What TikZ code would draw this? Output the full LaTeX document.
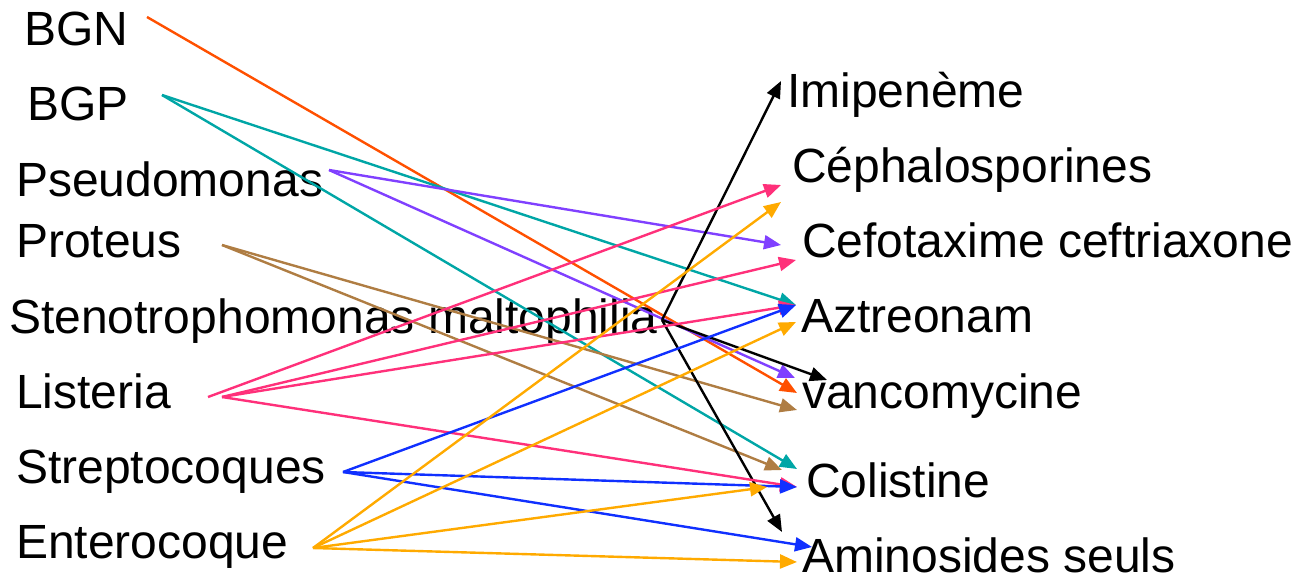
\documentclass[tikz,border=0pt]{standalone}
\usepackage{fontspec}
\setmainfont{Liberation Sans}
\usepackage{tikz}
\usetikzlibrary{arrows.meta,positioning}

\definecolor{cRed}{RGB}{255,80,0}
\definecolor{cTeal}{RGB}{0,166,166}
\definecolor{cPurple}{RGB}{128,64,255}
\definecolor{cBrown}{RGB}{175,125,67}
\definecolor{cPink}{RGB}{255,48,122}
\definecolor{cBlue}{RGB}{16,48,255}
\definecolor{cOrange}{RGB}{255,170,0}

\begin{document}
\begin{tikzpicture}[x=1pt,y=-1pt,
		every node/.style={inner sep=0pt,anchor=base west,font=\fontsize{48}{58}\selectfont},
		link/.style={line width=2.4pt,-{Triangle[length=17pt,width=14pt]}}]
		\useasboundingbox (0,0) rectangle (1296,578);

		% bacteries
		\node (bgn) at (24,46) {BGN};
		\node (bgp) at (27,121) {BGP};
		\node (pseudo) at (16,196) {Pseudomonas};
		\node (proteus) at (16,257) {Proteus};
		\node (steno) at (9,333) {Stenotrophomonas maltophilia};
		\node (listeria) at (16,408) {Listeria};
		\node (strepto) at (16,483) {Streptocoques};
		\node (entero) at (16,558) {Enterocoque};

		% antibiotiques
		\node (imip) at (787,107) {Imipenème};
		\node (cepha) at (792,182) {Céphalosporines};
		\node (cefo) at (802,257) {Cefotaxime ceftriaxone};
		\node (aztreo) at (801,332) {Aztreonam};
		\node (vanco) at (802,408) {vancomycine};
		\node (coli) at (806,497) {Colistine};
		\node (amino) at (802,572) {Aminosides seuls};

		% departs
		\coordinate (bgn-o) at (147,17);
		\coordinate (bgp-o) at (162,95);
		\coordinate (pseudo-o) at (329,170);
		\coordinate (proteus-o) at (222,245);
		\coordinate (steno-o) at (662,320);
		\coordinate (listeria-o) at (208,397);
		\coordinate (listeria-p) at (222,397);
		\coordinate (strepto-o) at (343,472);
		\coordinate (entero-o) at (313,548);

		% pointes
		\coordinate (imip-a) at (781,81);
		\coordinate (cepha-a) at (781,185);
		\coordinate (cepha-b) at (781,202);
		\coordinate (cefo-a) at (781,245);
		\coordinate (cefo-b) at (796,260);
		\coordinate (aztreo-a) at (796,305);
		\coordinate (aztreo-b) at (796,322);
		\coordinate (vanco-a) at (795,378);
		\coordinate (vanco-b) at (797,393);
		\coordinate (vanco-c) at (797,410);
		\coordinate (vanco-d) at (827,380);
		\coordinate (coli-a) at (797,469);
		\coordinate (coli-b) at (782,470);
		\coordinate (coli-c) at (797,487);
		\coordinate (coli-d) at (767,487);
		\coordinate (amino-a) at (782,532);
		\coordinate (amino-b) at (812,547);
		\coordinate (amino-c) at (797,562);

		\draw[link,cRed] (bgn-o)--(vanco-b);
		\draw[link,cTeal] (bgp-o)--(aztreo-a);
		\draw[link,cTeal] (bgp-o)--(coli-a);
		\draw[link,cPurple] (pseudo-o)--(cefo-a);
		\draw[link,cPurple] (pseudo-o)--(vanco-a);
		\draw[link,cBrown] (proteus-o)--(vanco-c);
		\draw[link,cBrown] (proteus-o)--(coli-b);
		\draw[link,black] (steno-o)--(imip-a);
		\draw[link,black] (steno-o)--(vanco-d);
		\draw[link,black] (steno-o)--(amino-a);
		\draw[link,cPink] (listeria-o)--(cepha-a);
		\draw[link,cPink] (listeria-p)--(cefo-b);
		\draw[link,cPink] (listeria-p)--(aztreo-a);
		\draw[link,cPink] (listeria-p)--(coli-c);
		\draw[link,cBlue] (strepto-o)--(aztreo-a);
		\draw[link,cBlue] (strepto-o)--(coli-c);
		\draw[link,cBlue] (strepto-o)--(amino-b);
		\draw[link,cOrange] (entero-o)--(cepha-b);
		\draw[link,cOrange] (entero-o)--(aztreo-b);
		\draw[link,cOrange] (entero-o)--(coli-d);
		\draw[link,cOrange] (entero-o)--(amino-c);
	\end{tikzpicture}
\end{document}
